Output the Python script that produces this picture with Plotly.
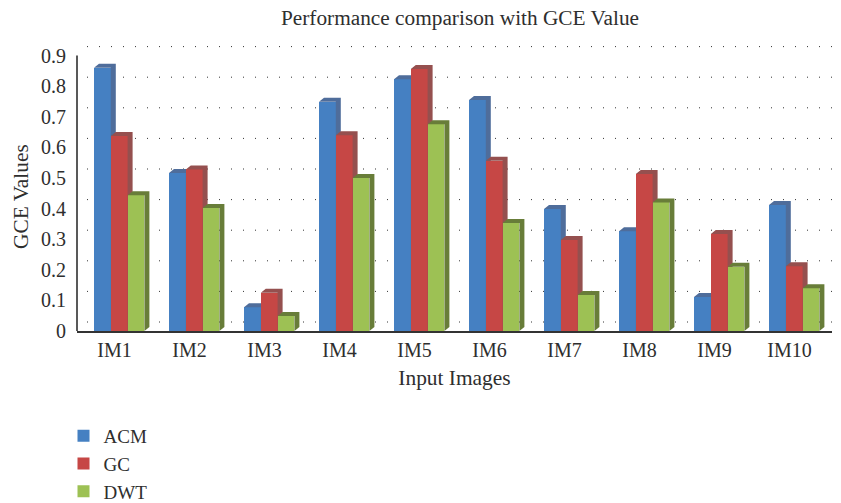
import plotly.graph_objects as go

# values
imagenes = ['IM1', 'IM2', 'IM3', 'IM4', 'IM5', 'IM6', 'IM7', 'IM8', 'IM9', 'IM10']
acm = [0.86, 0.516, 0.078, 0.749, 0.823, 0.755, 0.399, 0.326, 0.111, 0.412]
gc = [0.637, 0.528, 0.125, 0.64, 0.856, 0.556, 0.297, 0.513, 0.317, 0.212]
dwt = [0.444, 0.402, 0.049, 0.5, 0.676, 0.353, 0.118, 0.42, 0.21, 0.14]
ticks_y = [0, 0.1, 0.2, 0.3, 0.4, 0.5, 0.6, 0.7, 0.8, 0.9]

fuente = 'Liberation Serif'
color_texto = '#2e2e2e'

# la pagina deja 8 px de margen en el body, por eso todo va corrido 8 px
margen_body = 8
ancho_fig = 841 - margen_body
alto_fig = 503 - margen_body
izq_plot = 77 - margen_body
arriba_plot = 40 - margen_body
ancho_plot = 755
alto_plot = 291

# escala del dibujo: 75 px por categoria, 306 px por unidad en y
ancho_barra = 16.8 / 75
inicio_barras = -20.5 / 75
fondo_x = 5 / 75
fondo_y = 4 / 306
rango_x = [-0.5, -0.5 + ancho_plot / 75]
rango_y = [0, alto_plot / 306]

series = [
    ('ACM', acm, '#4580c2', '#4f6d9b'),
    ('GC', gc, '#c64745', '#95504f'),
    ('DWT', dwt, '#9dc154', '#687d39'),
]

fig = go.Figure()

# cada serie va en su propio par de ejes superpuestos, asi el frente de la barra
# siguiente tapa el costado de la anterior (plotly pinta scatter sobre las barras)
for i, (nombre, valores, color, color_fondo) in enumerate(series):
    sufijo = '' if i == 0 else str(i + 1)
    desde = inicio_barras + i * ancho_barra

    fig.add_trace(go.Bar(
        x=list(range(len(imagenes))), y=valores, name=nombre,
        width=ancho_barra, offset=desde,
        marker=dict(color=color, line=dict(width=0)),
        customdata=imagenes, hovertemplate='%{customdata}: %{y}',
        xaxis='x' + sufijo, yaxis='y' + sufijo
    ))

    # costado y tapa de cada barra, salen del valor
    cara_x = []
    cara_y = []
    for pos, val in enumerate(valores):
        izq = pos + desde
        der = izq + ancho_barra
        cara_x += [der, der + fondo_x, der + fondo_x, der, None]
        cara_y += [0, fondo_y, val + fondo_y, val, None]
        cara_x += [izq, izq + fondo_x, der + fondo_x, der, None]
        cara_y += [val, val + fondo_y, val + fondo_y, val, None]
    fig.add_trace(go.Scatter(
        x=cara_x, y=cara_y, mode='lines', fill='toself', fillcolor=color_fondo,
        line=dict(width=0, color=color_fondo), showlegend=False, hoverinfo='skip',
        xaxis='x' + sufijo, yaxis='y' + sufijo
    ))

# puntitos de la pared del fondo, corridos arriba respecto de los ticks
formas = []
for t in ticks_y:
    formas.append(dict(
        type='line', xref='paper', yref='y', layer='below',
        x0=10 / ancho_plot, x1=1, y0=t + 9 / 306, y1=t + 9 / 306,
        line=dict(color='#333333', width=1, dash='1px,11px')
    ))
# el eje vertical llega solo hasta 0.9
formas.append(dict(
    type='line', xref='paper', yref='y', x0=0, x1=0, y0=0, y1=0.9,
    line=dict(color='#222222', width=1.5)
))

eje_oculto = dict(visible=False, fixedrange=True)

fig.update_layout(
    width=ancho_fig, height=alto_fig,
    margin=dict(
        l=izq_plot, r=ancho_fig - izq_plot - ancho_plot,
        t=arriba_plot, b=alto_fig - arriba_plot - alto_plot, pad=0
    ),
    paper_bgcolor='white', plot_bgcolor='white',
    font=dict(family=fuente, size=20, color=color_texto),
    title=dict(
        text='Performance comparison with GCE Value', x=(460 - margen_body) / ancho_fig, xanchor='center',
        y=1 - (18 - margen_body) / alto_fig, yanchor='middle', font=dict(size=21.3, color=color_texto)
    ),
    xaxis=dict(
        range=rango_x, tickmode='array', tickvals=list(range(len(imagenes))), ticktext=imagenes,
        showgrid=False, zeroline=False, showline=True, linecolor='#333333', linewidth=2,
        ticks='', tickfont=dict(size=20),
        title=dict(text='Input Images', standoff=10, font=dict(size=21.4))
    ),
    yaxis=dict(
        range=rango_y, tickmode='array', tickvals=ticks_y,
        ticktext=['0' if t == 0 else str(t) for t in ticks_y],
        showgrid=False, zeroline=False, showline=False,
        ticks='outside', ticklen=6, tickcolor='rgba(0,0,0,0)'
    ),
    xaxis2=dict(range=rango_x, overlaying='x', **eje_oculto),
    yaxis2=dict(range=rango_y, overlaying='y', **eje_oculto),
    xaxis3=dict(range=rango_x, overlaying='x', **eje_oculto),
    yaxis3=dict(range=rango_y, overlaying='y', **eje_oculto),
    # con yref paper la leyenda empuja el margen de abajo y achica el grafico
    legend=dict(
        xref='paper', yref='container',
        x=(63.5 - 77) / ancho_plot, xanchor='left',
        y=1 - (417 - margen_body) / alto_fig, yanchor='top',
        orientation='v', font=dict(size=19), bgcolor='rgba(0,0,0,0)',
        traceorder='normal'
    ),
    shapes=formas,
    bargap=0
)

# el titulo del eje y no va centrado en el eje, va mas abajo, asi que es anotacion
fig.add_annotation(
    text='GCE Values', xref='paper', yref='paper', textangle=-90, showarrow=False,
    x=(21 - 77) / ancho_plot, y=1 - (196 - 40) / alto_plot,
    xanchor='center', yanchor='middle', font=dict(size=21.4, color=color_texto)
)

fig.write_html("out.html")
